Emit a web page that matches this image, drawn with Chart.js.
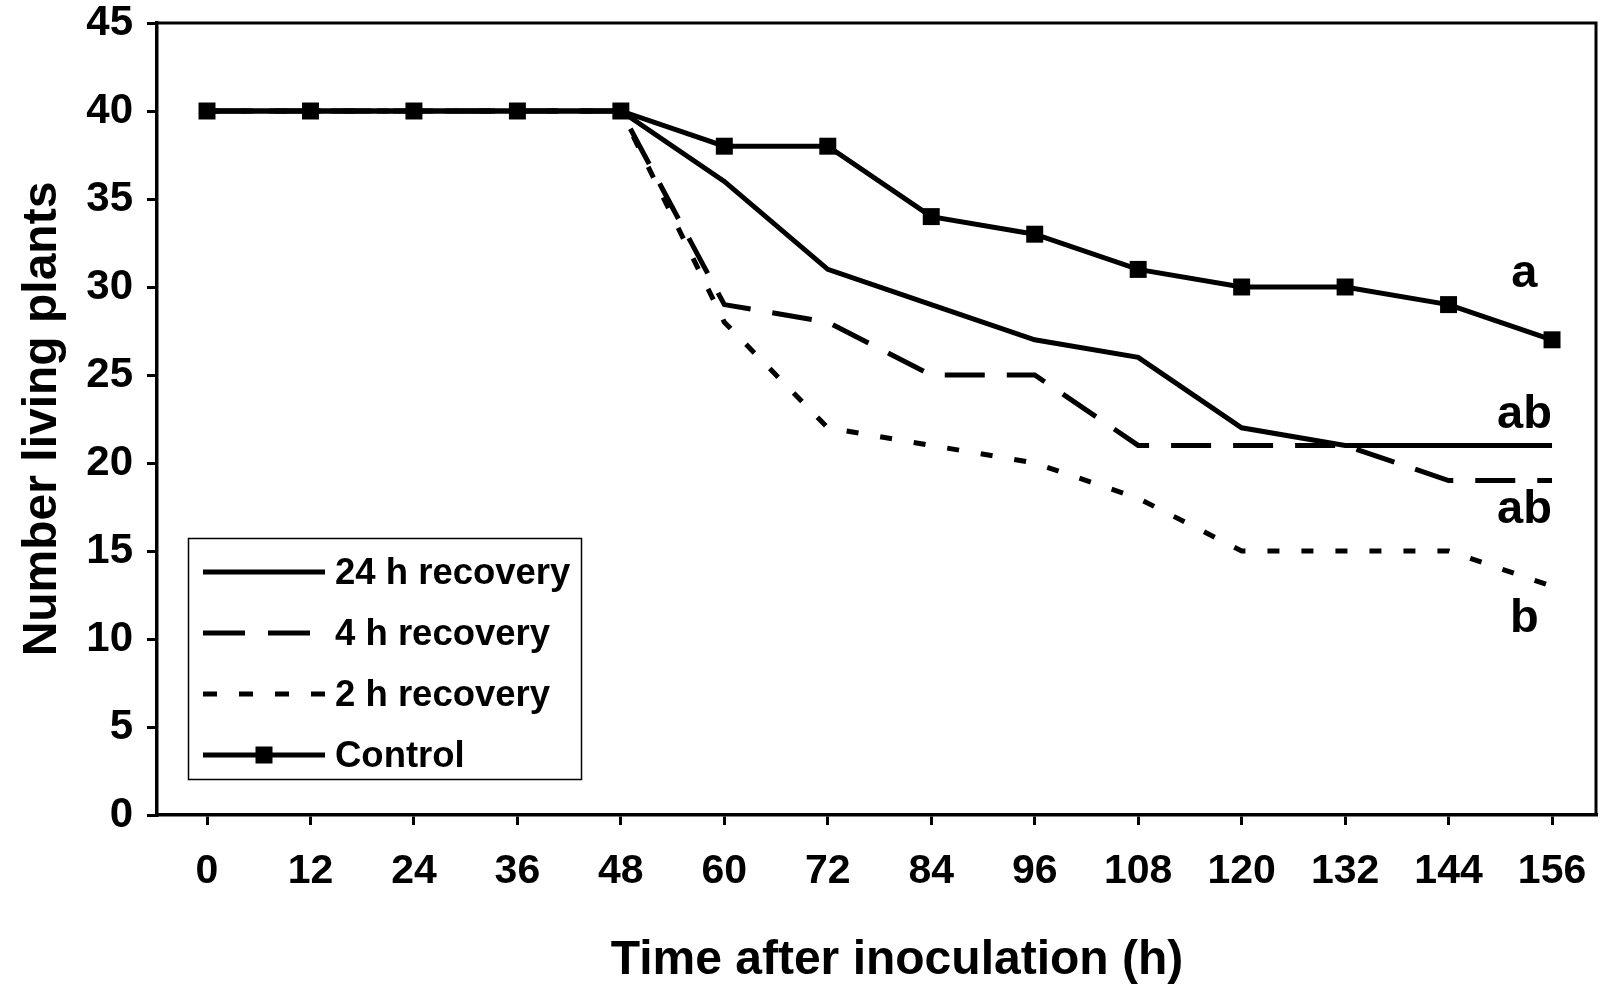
<!DOCTYPE html>
<html>
<head>
<meta charset="utf-8">
<script src="https://cdn.jsdelivr.net/npm/chart.js@4/dist/chart.umd.min.js"></script>
<style>
  body { margin: 0; background: #fff; }
  canvas { display: block; }
</style>
</head>
<body>
<canvas id="plantChart" width="1608" height="984"></canvas>
<script>
const hours = [0, 12, 24, 36, 48, 60, 72, 84, 96, 108, 120, 132, 144, 156];
const yTicks = [0, 5, 10, 15, 20, 25, 30, 35, 40, 45];

const recovery24h = [40, 40, 40, 40, 40, 36, 31, 29, 27, 26, 22, 21, 21, 21];
const recovery4h = [40, 40, 40, 40, 40, 29, 28, 25, 25, 21, 21, 21, 19, 19];
const recovery2h = [40, 40, 40, 40, 40, 28, 22, 21, 20, 18, 15, 15, 15, 13];
const control = [40, 40, 40, 40, 40, 38, 38, 34, 33, 31, 30, 30, 29, 27];

const seriesNames = ["24 h recovery", "4 h recovery", "2 h recovery", "Control"];

// significance letters next to the line ends
const letterText = ["a", "ab", "ab", "b"];
const letterX = [152.8, 152.8, 152.8, 152.8];
const letterY = [30, 22, 16.6, 10.4];

const FONT = "'Liberation Sans', Arial, sans-serif";
const BLACK = "#000";

function toPoints(values) {
  return hours.map((h, i) => ({ x: h, y: values[i] }));
}

const styles = [
  { dash: [], marker: false },
  { dash: [40, 22], marker: false },
  { dash: [12, 22], marker: false },
  { dash: [], marker: true }
];

const decorPlugin = {
  id: "decor",
  afterDraw(chart) {
    const { ctx, chartArea, scales } = chart;
    ctx.save();

    // top and right frame
    ctx.strokeStyle = BLACK;
    ctx.lineWidth = 3;
    ctx.beginPath();
    ctx.moveTo(chartArea.left, chartArea.top);
    ctx.lineTo(chartArea.right, chartArea.top);
    ctx.lineTo(chartArea.right, chartArea.bottom);
    ctx.stroke();

    ctx.fillStyle = BLACK;

    // axis titles
    ctx.font = "bold 48px " + FONT;
    ctx.textAlign = "center";
    ctx.textBaseline = "alphabetic";
    ctx.fillText("Time after inoculation (h)", 897, 974);

    ctx.save();
    ctx.translate(56, (chartArea.top + chartArea.bottom) / 2);
    ctx.rotate(-Math.PI / 2);
    ctx.fillText("Number living plants", 0, 0);
    ctx.restore();

    // letters
    ctx.font = "bold 47px " + FONT;
    letterText.forEach((t, i) => {
      ctx.fillText(t, scales.x.getPixelForValue(letterX[i]), scales.y.getPixelForValue(letterY[i]));
    });

    // legend
    ctx.lineWidth = 1.5;
    ctx.strokeRect(188.5, 538.5, 393, 241);
    ctx.font = "bold 36.5px " + FONT;
    ctx.textAlign = "left";
    ctx.textBaseline = "middle";
    seriesNames.forEach((name, i) => {
      const y = 572 + i * 61;
      ctx.lineWidth = 5;
      ctx.lineCap = "butt";
      ctx.setLineDash(i === 1 ? [42, 23] : i === 2 ? [14, 22] : []);
      ctx.beginPath();
      ctx.moveTo(203, y);
      ctx.lineTo(325, y);
      ctx.stroke();
      ctx.setLineDash([]);
      if (styles[i].marker) {
        ctx.fillRect(264 - 8.5, y - 8.5, 17, 17);
      }
      ctx.fillText(name, 335, y + 2);
    });

    ctx.restore();
  }
};

const datasets = [recovery24h, recovery4h, recovery2h, control].map((values, i) => ({
  label: seriesNames[i],
  data: toPoints(values),
  borderColor: BLACK,
  backgroundColor: BLACK,
  borderWidth: 5,
  borderDash: styles[i].dash,
  borderCapStyle: "butt",
  tension: 0,
  pointStyle: "rect",
  pointRadius: styles[i].marker ? 12 : 0,
  pointHoverRadius: 0,
  pointBorderWidth: 0
}));

new Chart(document.getElementById("plantChart"), {
  type: "line",
  data: { datasets: datasets },
  options: {
    responsive: false,
    animation: false,
    events: [],
    layout: { padding: { top: 23, right: 5, left: 0, bottom: 0 } },
    plugins: {
      legend: { display: false },
      tooltip: { enabled: false }
    },
    scales: {
      x: {
        type: "linear",
        min: -5.8,
        max: 161.1,
        afterBuildTicks: (scale) => {
          scale.ticks = hours.map(v => ({ value: v }));
        },
        afterFit: (scale) => {
          scale.height = 169;
          scale.paddingLeft = 0;
          scale.paddingRight = 0;
        },
        border: { display: true, color: BLACK, width: 3.5 },
        grid: { drawOnChartArea: false, drawTicks: true, tickLength: 10, color: BLACK, lineWidth: 3 },
        ticks: {
          color: BLACK,
          padding: 22,
          maxRotation: 0,
          autoSkip: false,
          font: { family: FONT, size: 41, weight: "bold" }
        }
      },
      y: {
        min: 0,
        max: 45,
        afterBuildTicks: (scale) => {
          scale.ticks = yTicks.map(v => ({ value: v }));
        },
        afterFit: (scale) => {
          scale.width = 157;
          scale.paddingTop = 0;
          scale.paddingBottom = 0;
        },
        border: { display: true, color: BLACK, width: 3.5 },
        grid: { drawOnChartArea: false, drawTicks: true, tickLength: 10, color: BLACK, lineWidth: 3 },
        ticks: {
          color: BLACK,
          padding: 14,
          font: { family: FONT, size: 42, weight: "bold" }
        }
      }
    }
  },
  plugins: [decorPlugin]
});
</script>
</body>
</html>
